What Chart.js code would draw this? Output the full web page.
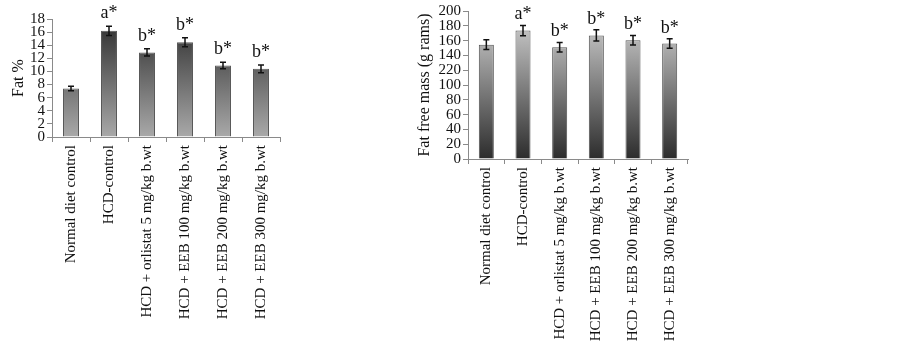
<!DOCTYPE html>
<html>
<head>
<meta charset="utf-8">
<script src="https://cdn.jsdelivr.net/npm/chart.js@4.4.0/dist/chart.umd.min.js"></script>
<style>
  body { margin: 0; background: #fff; width: 903px; height: 342px; overflow: hidden; }
  canvas { position: absolute; top: 0; }
  #fatChart { left: 0; }
  #ffmChart { left: 400px; }
</style>
</head>
<body>
<canvas id="fatChart" width="300" height="342"></canvas>
<canvas id="ffmChart" width="300" height="342"></canvas>
<script>
const groups = [
    'Normal diet control',
    'HCD-control',
    'HCD + orlistat 5 mg/kg b.wt',
    'HCD + EEB 100 mg/kg b.wt',
    'HCD + EEB 200 mg/kg b.wt',
    'HCD + EEB 300 mg/kg b.wt'
];
const fatValues = [7.4, 16.2, 12.9, 14.45, 10.9, 10.4];
const fatErrors = [0.35, 0.7, 0.55, 0.7, 0.5, 0.6];
const fatMarks = ['', 'a*', 'b*', 'b*', 'b*', 'b*'];

const ffmValues = [154.5, 173.5, 151, 167, 160.5, 156];
const ffmErrors = [6.5, 7, 6.5, 7.5, 6.5, 6.5];
const ffmMarks = ['', 'a*', 'b*', 'b*', 'b*', 'b*'];
// tick labels exactly as printed in the figure (including its "220")
const ffmTickLabels = ['0', '20', '40', '60', '80', '100', '220', '140', '160', '180', '200'];

const serif = "'Liberation Serif', 'Times New Roman', serif";
const axisGray = '#8a8a8a';

function gradientFill(topColor, bottomColor) {
    return (ctx) => {
        const area = ctx.chart.chartArea;
        if (!area) return bottomColor;
        const g = ctx.chart.ctx.createLinearGradient(0, area.top, 0, area.bottom);
        g.addColorStop(0, topColor);
        g.addColorStop(1, bottomColor);
        return g;
    };
}

// error bars + significance letters
const errorBars = {
    id: 'errorBars',
    afterDatasetsDraw(chart, args, opts) {
        const { ctx } = chart;
        const meta = chart.getDatasetMeta(0);
        const y = chart.scales.y;
        ctx.save();
        ctx.strokeStyle = '#111';
        ctx.lineWidth = 1.5;
        meta.data.forEach((bar, i) => {
            const v = chart.data.datasets[0].data[i];
            const e = opts.errors[i];
            const yTop = y.getPixelForValue(v + e);
            const yBot = y.getPixelForValue(v - e);
            ctx.beginPath();
            ctx.moveTo(bar.x, yTop); ctx.lineTo(bar.x, yBot);
            ctx.moveTo(bar.x - 3, yTop); ctx.lineTo(bar.x + 3, yTop);
            ctx.moveTo(bar.x - 3, yBot); ctx.lineTo(bar.x + 3, yBot);
            ctx.stroke();
            if (opts.marks[i]) {
                ctx.fillStyle = '#111';
                ctx.font = '18px ' + serif;
                ctx.textAlign = 'center';
                ctx.textBaseline = 'alphabetic';
                ctx.fillText(opts.marks[i], bar.x, yTop - opts.gap);
            }
        });
        ctx.restore();
    }
};

function makeChart(canvas, cfg) {
    return new Chart(canvas, {
        type: 'bar',
        data: {
            labels: groups,
            datasets: [{
                data: cfg.values,
                backgroundColor: gradientFill(cfg.top, cfg.bottom),
                borderColor: '#555',
                borderWidth: 1,
                barPercentage: cfg.barPct,
                categoryPercentage: 1
            }]
        },
        options: {
            responsive: false,
            animation: false,
            layout: { padding: cfg.padding },
            plugins: {
                legend: { display: false },
                tooltip: { enabled: false },
                errorBars: { errors: cfg.errors, marks: cfg.marks, gap: cfg.gap }
            },
            scales: {
                x: {
                    afterFit: (s) => { s.height = cfg.xHeight; },
                    border: { color: axisGray },
                    grid: { drawOnChartArea: false, color: axisGray, tickLength: 5 },
                    ticks: {
                        autoSkip: false, minRotation: 90, maxRotation: 90,
                        color: '#111', font: { family: serif, size: 15 }
                    }
                },
                y: {
                    min: 0, max: cfg.max,
                    afterFit: (s) => { s.width = cfg.yWidth; },
                    border: { color: axisGray },
                    grid: { drawOnChartArea: false, color: axisGray, tickLength: 5 },
                    ticks: {
                        stepSize: cfg.step, padding: 2, autoSkip: false,
                        color: '#111', font: { family: serif, size: 15 },
                        callback: cfg.tickCb
                    },
                    title: {
                        display: true, text: cfg.title, color: '#111',
                        font: { family: serif, size: 16 },
                        padding: { top: cfg.titlePad, bottom: 0 }
                    }
                }
            }
        },
        plugins: [errorBars]
    });
}

makeChart(document.getElementById('fatChart'), {
    values: fatValues, errors: fatErrors, marks: fatMarks,
    top: '#2c2c2c', bottom: '#a9a9a9', barPct: 0.42,
    max: 18, step: 2, tickCb: (v) => v,
    title: 'Fat %', titlePad: 9, gap: 8,
    padding: { top: 19, right: 20, left: 0, bottom: 0 },
    xHeight: 205, yWidth: 52
});

makeChart(document.getElementById('ffmChart'), {
    values: ffmValues, errors: ffmErrors, marks: ffmMarks,
    top: '#d6d6d6', bottom: '#2c2c2c', barPct: 0.41,
    max: 200, step: 20, tickCb: (v, i) => ffmTickLabels[i],
    title: 'Fat free mass (g rams)', titlePad: 15, gap: 6,
    padding: { top: 11, right: 12, left: 0, bottom: 0 },
    xHeight: 183, yWidth: 68
});
</script>
</body>
</html>
